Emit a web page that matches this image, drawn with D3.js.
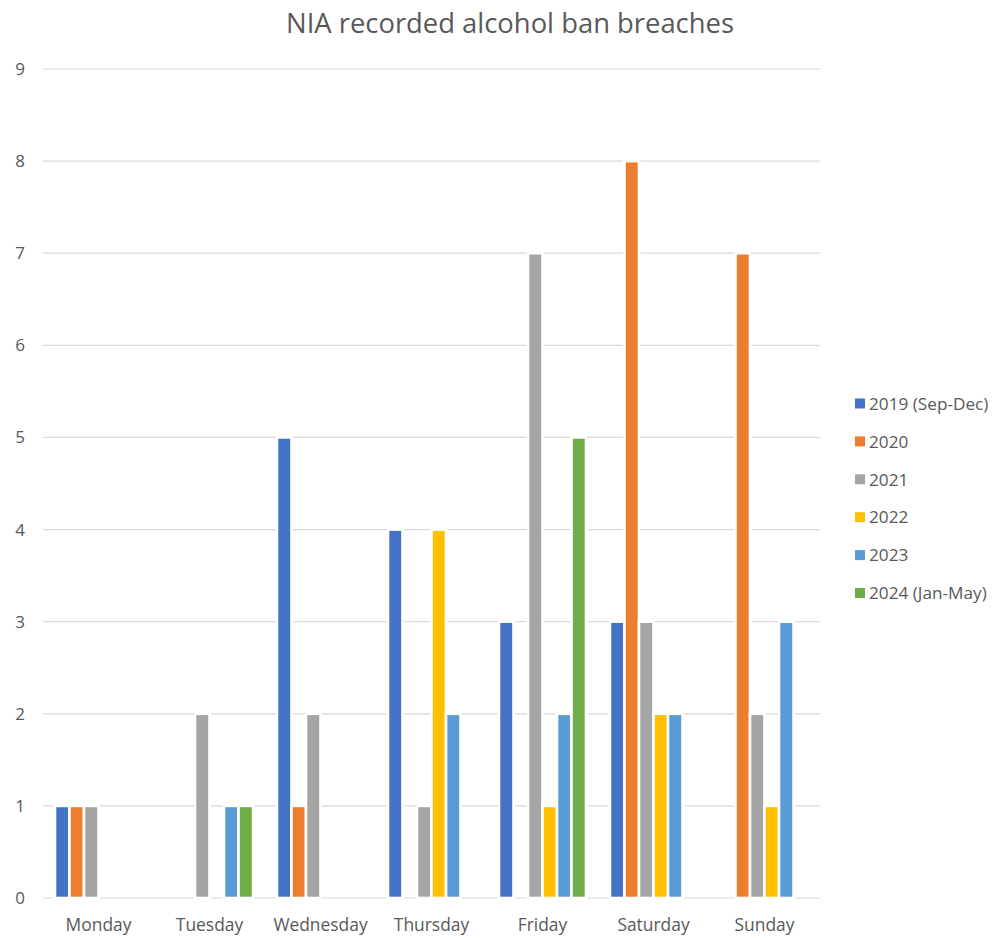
<!DOCTYPE html>
<html>
<head>
<meta charset="utf-8">
<script src="https://cdn.jsdelivr.net/npm/d3@7"></script>
<style>
  body { margin: 0; background: #fff; }
  svg { display: block; }
  text { font-family: "Open Sans", Lato, sans-serif; fill: #595959; }
</style>
</head>
<body>
<svg id="chart" width="997" height="938"></svg>
<script>
const title = "NIA recorded alcohol ban breaches";
const days = ["Monday", "Tuesday", "Wednesday", "Thursday", "Friday", "Saturday", "Sunday"];
const seriesNames = ["2019 (Sep-Dec)", "2020", "2021", "2022", "2023", "2024 (Jan-May)"];
const seriesColors = ["#4472C4", "#ED7D31", "#A5A5A5", "#FFC000", "#5B9BD5", "#70AD47"];
const v2019 = [1, 0, 5, 4, 3, 3, 0];
const v2020 = [1, 0, 1, 0, 0, 8, 7];
const v2021 = [1, 2, 2, 1, 7, 3, 2];
const v2022 = [0, 0, 0, 4, 1, 2, 1];
const v2023 = [0, 1, 0, 2, 2, 2, 3];
const v2024 = [0, 1, 0, 0, 5, 0, 0];
const yTicks = [0, 1, 2, 3, 4, 5, 6, 7, 8, 9];

(function () {
const seriesValues = [v2019, v2020, v2021, v2022, v2023, v2024];

const svg = d3.select("#chart");
const mLeft = 43, mRight = 820, mTop = 69, mBottom = 898;

const x0 = d3.scaleBand().domain(days).range([mLeft, mRight]).paddingInner(0.216).paddingOuter(0.108);
const x1 = d3.scaleBand().domain(seriesNames).range([0, x0.bandwidth()]).padding(0);
const y = d3.scaleLinear().domain([0, 9]).range([mBottom, mTop]);

// title
svg.append("text").attr("x", 510).attr("y", 33).attr("text-anchor", "middle")
  .style("font-size", "27.4px").text(title);

// gridlines
svg.append("g").selectAll("line").data(yTicks).join("line")
  .attr("x1", mLeft).attr("x2", mRight)
  .attr("y1", d => y(d)).attr("y2", d => y(d))
  .attr("stroke", "#d9d9d9").attr("stroke-width", 1.2);

// y axis labels
const yAxis = d3.axisLeft(y).tickValues(yTicks).tickSize(0).tickPadding(0).tickFormat(d3.format("d"));
const yg = svg.append("g").attr("transform", `translate(${mLeft - 18},0)`).call(yAxis);
yg.select(".domain").remove();
yg.selectAll("text").style("font-size", "17px").attr("fill", "#595959").style("font-family", "'Open Sans', sans-serif").attr("text-anchor", "end");

// x axis labels
const xAxis = d3.axisBottom(x0).tickSize(0).tickPadding(0);
const xg = svg.append("g").attr("transform", `translate(0,${mBottom + 21})`).call(xAxis);
xg.select(".domain").remove();
xg.selectAll("text").style("font-size", "17.4px").attr("fill", "#595959").style("font-family", "'Open Sans', sans-serif");

// bars
const groups = svg.append("g").selectAll("g").data(days).join("g")
  .attr("transform", d => `translate(${x0(d)},0)`);
groups.selectAll("rect")
  .data((d, i) => seriesNames.map((s, j) => ({ s, j, v: seriesValues[j][i] })).filter(e => e.v > 0))
  .join("rect")
  .attr("x", e => x1(e.s))
  .attr("width", x1.bandwidth())
  .attr("y", e => y(e.v))
  .attr("height", e => y(0) - y(e.v))
  .attr("fill", e => seriesColors[e.j])
  .attr("stroke", "#fff").attr("stroke-width", 2.6);

// legend
const leg = svg.append("g").selectAll("g").data(seriesNames).join("g")
  .attr("transform", (d, i) => `translate(855,${403.5 + i * 37.9})`);
leg.append("rect").attr("x", 0).attr("y", -5).attr("width", 10).attr("height", 10)
  .attr("fill", (d, i) => seriesColors[i]);
leg.append("text").attr("x", 14).attr("y", 0).attr("dy", "0.36em")
  .style("font-size", "17.2px").text(d => d);
})();
</script>
</body>
</html>
